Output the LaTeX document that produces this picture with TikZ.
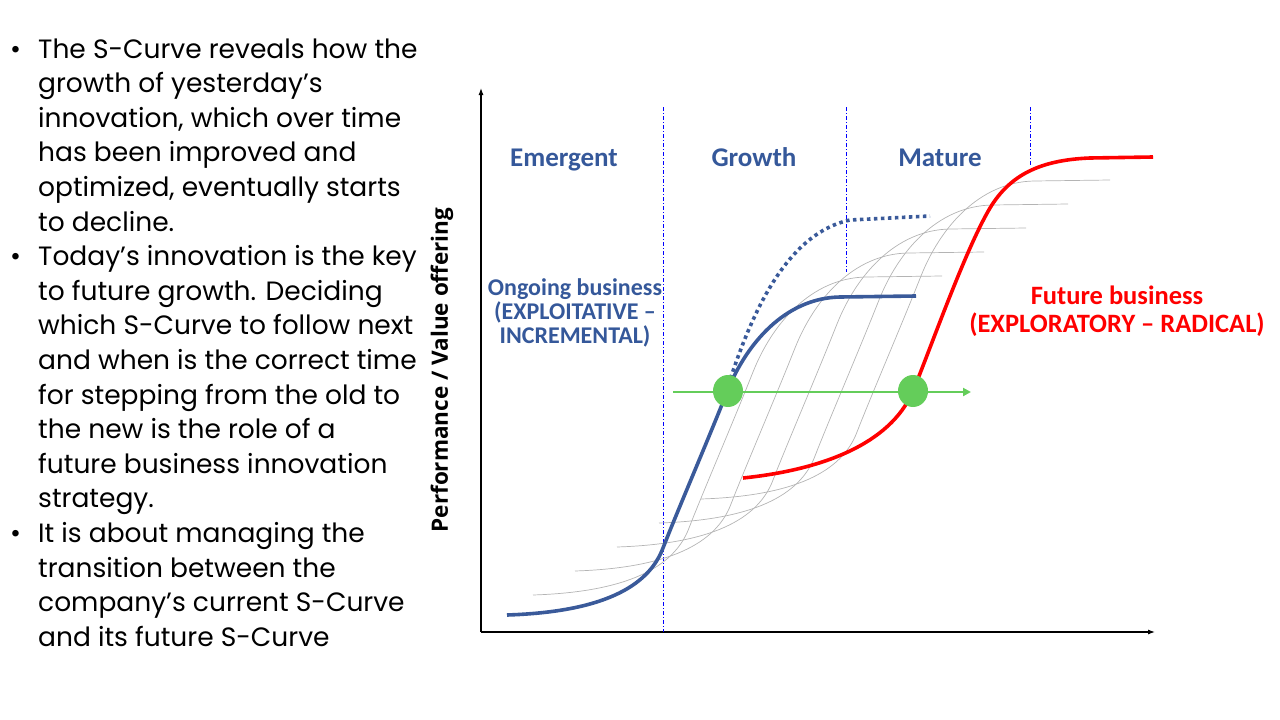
\documentclass[tikz,border=0pt]{standalone}
\usepackage{fontspec}
\setmainfont{Poppins}
\newfontfamily\calib{Carlito}
\newfontfamily\opens{Open Sans}
\usetikzlibrary{arrows.meta,shapes.geometric}
\definecolor{cblue}{HTML}{3A5A9A}
\definecolor{lblue}{HTML}{35589A}
\definecolor{cgreen}{HTML}{64CD5A}
\definecolor{cgray}{HTML}{B4B4B4}
\tikzset{
  phase/.style={anchor=base, font=\calib\bfseries\fontsize{27}{30}\selectfont, text=lblue},
  bodyline/.style={anchor=base west, inner sep=0pt, font=\fontsize{26.5}{30}\selectfont},
  sep/.style={blue, line width=0.9pt, dash pattern=on 4pt off 2pt on 1pt off 2pt},
  axisline/.style={line width=1.1pt, -{Latex[length=7pt,width=5pt]}},
  dot/.style={ellipse, fill=cgreen, minimum width=30pt, minimum height=32pt, inner sep=0pt},
}
\def\bluepath{(507,615) .. controls (600,612) and (648,588) .. (663,548)
  .. controls (677,512) and (708,440) .. (727,392)
  .. controls (746,344) and (785,298) .. (840,297) -- (916,296)}
\begin{document}
\begin{tikzpicture}[x=1pt,y=-1pt]
\useasboundingbox (0,0) rectangle (1280,720);
% left text
\foreach \t [count=\i from 0] in {{The S-Curve reveals how the},{growth of yesterday’s},{innovation, which over time},{has been improved and},{optimized, eventually starts},{to decline.},{Today’s innovation is the key},{to future growth. Deciding},{which S-Curve to follow next},{and when is the correct time},{for stepping from the old to},{the new is the role of a},{future business innovation},{strategy.},{It is about managing the},{transition between the},{company’s current S-Curve},{and its future S-Curve}}
  \node[bodyline] (line\i) at (38,{58+34.6*\i}) {\t};
\foreach \i in {0,6,14}
  \node[bodyline] (bul\i) at (10,{58+34.6*\i}) {•};
% axes
\coordinate (orig) at (481,632);
\coordinate (ytop) at (481,88);
\coordinate (xend) at (1155,632);
\draw[axisline] (orig) -- (ytop);
\draw[axisline] (orig) -- (xend);
\node[rotate=90, font=\opens\bfseries\fontsize{22.5}{24}\selectfont] (ylab) at (442,370) {Performance / Value offering};
% separators
\coordinate (s1t) at (663,107); \coordinate (s1b) at (663,632);
\coordinate (s2t) at (846,107); \coordinate (s2b) at (846,272);
\coordinate (s3t) at (1030,107); \coordinate (s3b) at (1030,166);
\draw[sep] (s1t) -- (s1b);
\draw[sep] (s2t) -- (s2b);
\draw[sep] (s3t) -- (s3b);
% phase labels
\node[phase] (emerg) at (564,166) {Emergent};
\node[phase] (growth) at (754,166) {Growth};
\node[phase] (mature) at (940,166) {Mature};
% gray family
\foreach \i in {0,...,4}
  \draw[cgray, line width=0.7pt, shift={({26+42*\i},{-20-24*\i})}] \bluepath;
% blue curve
\draw[cblue, line width=3.6pt] \bluepath;
% dotted
\draw[cblue, line width=3.6pt, dash pattern=on 3.5pt off 3.5pt] (722,405) .. controls (745,330) and (780,235) .. (850,220) -- (930,216);
% red curve
\draw[red, line width=3.6pt] (743,478) .. controls (820,470) and (890,445) .. (913,391)
  .. controls (930,350) and (965,250) .. (990,208)
  .. controls (1010,175) and (1040,160) .. (1090,158) -- (1153,157);
% labels
\node[font=\calib\bfseries\fontsize{24}{24}\selectfont, text=lblue, align=center] (ongo) at (575,313) {Ongoing business\\(EXPLOITATIVE –\\INCREMENTAL)};
\node[font=\calib\bfseries\fontsize{26.5}{28}\selectfont, text=red, align=center] (fut) at (1117,311) {Future business\\(EXPLORATORY – RADICAL)};
% green
\coordinate (gstart) at (673,392);
\coordinate (gend) at (971,392);
\draw[cgreen, line width=2.5pt, -{Triangle[length=8pt,width=8pt]}] (gstart) -- (gend);
\node[dot] (d1) at (728,391) {};
\node[dot] (d2) at (913,391) {};
\end{tikzpicture}
\end{document}
